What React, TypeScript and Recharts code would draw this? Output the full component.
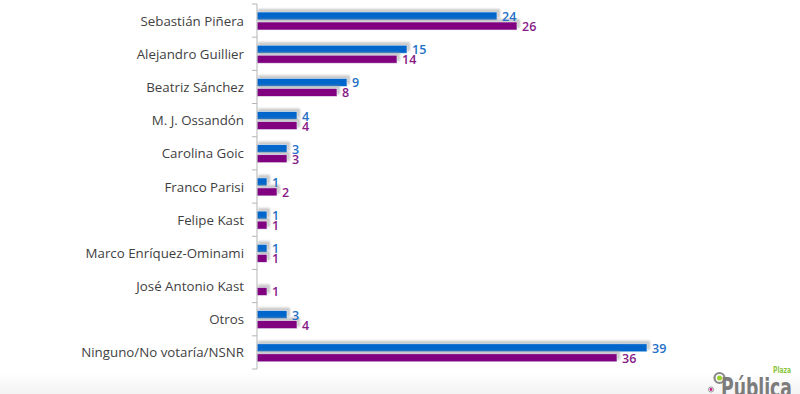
import React from "react";
import { BarChart, Bar, XAxis, YAxis, LabelList } from "recharts";

const categories = [
  "Sebastián Piñera ",
  "Alejandro  Guillier",
  "Beatriz Sánchez",
  "M. J. Ossandón ",
  "Carolina Goic",
  "Franco Parisi",
  "Felipe Kast",
  "Marco Enríquez-Ominami",
  "José Antonio Kast",
  "Otros",
  "Ninguno/No votaría/NSNR",
];
const seriesA: (number | null)[] = [24, 15, 9, 4, 3, 1, 1, 1, null, 3, 39];
const seriesB: (number | null)[] = [26, 14, 8, 4, 3, 2, 1, 1, 1, 4, 36];

const data = categories.map((name, i) => ({ name, a: seriesA[i], b: seriesB[i] }));

const W = 800;
const H = 394;
const MARGIN = { top: 4, right: 43, bottom: 25, left: 0 };
const AXIS_W = 257;
const BAND = (H - MARGIN.top - MARGIN.bottom) / categories.length;

const BLUE = "#0066CC";
const PURPLE = "#800080";
const BLUE_LBL = "#2470C6";
const PURPLE_LBL = "#871A87";
const FONT = "'Open Sans', 'Noto Sans', sans-serif";

const ShadowBar = (fill: string) => (props: any) => {
  const { x, y, width, height } = props;
  if (!width || width <= 0) return <g />;
  return (
    <g>
      <rect x={x + 1} y={y - 3} width={width + 2} height={height + 1} fill="#9a9a9a" opacity={0.55} style={{ filter: "blur(1.2px)" }} />
      <rect x={x} y={y} width={width} height={height} fill={fill} stroke="#e8eef6" strokeWidth={0.6} />
    </g>
  );
};

const CatTick = (props: any) => {
  const { x, y, payload, index } = props;
  const last = index === categories.length - 1;
  return (
    <g>
      <text x={x - 13} y={y} textAnchor="end" dominantBaseline="central" fontSize={13.3} fill="#3f3f3f" fontFamily={FONT}>
        {payload.value}
      </text>
      <line x1={x - 5} x2={x} y1={y - BAND / 2} y2={y - BAND / 2} stroke="#b5b5b5" strokeWidth={1} />
      {last && <line x1={x - 5} x2={x} y1={y + BAND / 2} y2={y + BAND / 2} stroke="#b5b5b5" strokeWidth={1} />}
    </g>
  );
};

const makeLabel = (color: string) => (props: any) => {
  const { x, y, width, height, value } = props;
  if (value == null) return null;
  return (
    <text x={x + width + 5} y={y + height / 2 + 0.5} dominantBaseline="central" fontSize={12.5} fontWeight={600} fill={color} fontFamily={FONT}>
      {value}
    </text>
  );
};

export default function App() {
  return (
    <div style={{ position: "absolute", left: 0, top: 0, width: W, height: H, background: "#fff", overflow: "hidden" }}>
      <div
        style={{
          position: "absolute",
          left: 0,
          top: 372,
          width: W,
          height: 22,
          background: "linear-gradient(#ffffff, #f4f4f4)",
        }}
      />
      <div style={{ position: "absolute", left: 0, top: 0 }}>
        <BarChart
          width={W}
          height={H}
          data={data}
          layout="vertical"
          margin={MARGIN}
          barSize={8}
          barGap={2}
        >
          <XAxis type="number" domain={[0, 50]} hide />
          <YAxis
            type="category"
            dataKey="name"
            width={AXIS_W}
            axisLine={{ stroke: "#b5b5b5" }}
            tickLine={false}
            tickSize={0}
            tickMargin={0}
            tick={<CatTick />}
            interval={0}
          />
          <Bar dataKey="a" fill={BLUE} isAnimationActive={false} shape={ShadowBar(BLUE)}>
            <LabelList dataKey="a" content={makeLabel(BLUE_LBL)} />
          </Bar>
          <Bar dataKey="b" fill={PURPLE} isAnimationActive={false} shape={ShadowBar(PURPLE)}>
            <LabelList dataKey="b" content={makeLabel(PURPLE_LBL)} />
          </Bar>
        </BarChart>
      </div>
      {/* logo */}
      <svg style={{ position: "absolute", left: 700, top: 355 }} width={100} height={39}>
        <circle cx={19.5} cy={23} r={5} fill="none" stroke="#888" strokeWidth={2.2} />
        <circle cx={19.5} cy={23} r={2.5} fill="#9ad42a" />
        <circle cx={11} cy={34.5} r={2.6} fill="none" stroke="#999" strokeWidth={1} />
        <circle cx={11} cy={34.5} r={1.4} fill="#d0148c" />
        <text
          x={73}
          y={17.5}
          fontFamily="'DejaVu Sans', sans-serif"
          fontWeight={700}
          fontSize={9.5}
          fill="#8cc63e"
          textLength={18}
          lengthAdjust="spacingAndGlyphs"
        >
          Plaza
        </text>
        <text
          x={21}
          y={42}
          fontFamily="'DejaVu Sans', sans-serif"
          fontWeight={700}
          fontSize={27}
          fill="#7c7c7c"
          textLength={71}
          lengthAdjust="spacingAndGlyphs"
        >
          Pública
        </text>
      </svg>
    </div>
  );
}
